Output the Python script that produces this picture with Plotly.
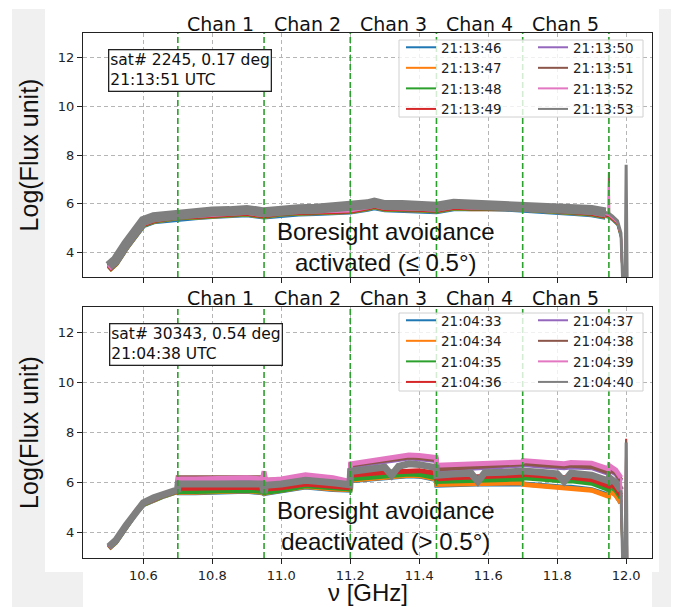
import plotly.graph_objects as go

# the page adds an 8px body margin: the figure sits at (8, 8) in the window
OFF = 8
W, H = 679 - OFF, 607 - OFF

# ---------------- data ----------------
series_colors = ["#1f77b4", "#ff7f0e", "#2ca02c", "#d62728",
                 "#9467bd", "#8c564b", "#e377c2", "#7f7f7f"]
top_names = ["21:13:46", "21:13:47", "21:13:48", "21:13:49",
             "21:13:50", "21:13:51", "21:13:52", "21:13:53"]
bot_names = ["21:04:33", "21:04:34", "21:04:35", "21:04:36",
             "21:04:37", "21:04:38", "21:04:39", "21:04:40"]

chan_edges = [10.7, 10.95, 11.2, 11.45, 11.7, 11.95]
chan_labels = ["Chan 1", "Chan 2", "Chan 3", "Chan 4", "Chan 5"]
chan_centers = [10.825, 11.075, 11.325, 11.575, 11.825]

x_ticks = [10.6, 10.8, 11.0, 11.2, 11.4, 11.6, 11.8, 12.0]
x_tick_labels = ["10.6", "10.8", "11.0", "11.2", "11.4", "11.6", "11.8", "12.0"]
y_ticks = [4, 6, 8, 10, 12]
y_tick_labels = ["4", "6", "8", "10", "12"]

# top panel frequency grid (GHz)
freq_top = [10.5, 10.52, 10.55, 10.58, 10.6, 10.63, 10.66, 10.7, 10.75, 10.8,
            10.85, 10.9, 10.95, 11.0, 11.05, 11.1, 11.15, 11.2, 11.25, 11.27,
            11.3, 11.35, 11.4, 11.45, 11.5, 11.55, 11.6, 11.65, 11.7, 11.75,
            11.8, 11.85, 11.9, 11.94, 11.949, 11.95, 11.951, 11.96, 11.975, 11.985,
            11.99, 11.997, 12.0, 12.003]

top_1346 = [3.3, 3.55, 4.2, 4.8, 5.12, 5.28, 5.33, 5.42, 5.45, 5.5, 5.52, 5.57, 5.48, 5.57, 5.6, 5.62, 5.67, 5.68, 5.8, 5.86, 5.78, 5.77, 5.74, 5.7, 5.82, 5.79, 5.82, 5.8, 5.77, 5.74, 5.67, 5.62, 5.57, 5.47, 5.44, 5.42, 5.42, 5.32, 5.12, 4.6, 2.8, 2.8, 2.8, 2.8]
top_1347 = [3.3, 3.55, 4.2, 4.8, 5.15, 5.3, 5.35, 5.45, 5.47, 5.53, 5.55, 5.6, 5.5, 5.6, 5.63, 5.65, 5.7, 5.7, 5.83, 5.9, 5.8, 5.8, 5.77, 5.73, 5.85, 5.82, 5.85, 5.83, 5.8, 5.77, 5.7, 5.65, 5.6, 5.5, 5.47, 5.45, 5.45, 5.35, 5.15, 4.65, 2.8, 2.8, 2.8, 2.8]
top_1348 = [3.32, 3.56, 4.21, 4.81, 5.16, 5.31, 5.36, 5.46, 5.48, 5.54, 5.56, 5.61, 5.51, 5.61, 5.64, 5.66, 5.71, 5.71, 5.84, 5.91, 5.81, 5.81, 5.78, 5.74, 5.86, 5.83, 5.86, 5.84, 5.81, 5.78, 5.71, 5.66, 5.61, 5.51, 5.48, 5.46, 5.46, 5.36, 5.16, 4.66, 2.8, 2.8, 2.8, 2.8]
top_1349 = [3.33, 3.58, 4.23, 4.83, 5.18, 5.33, 5.38, 5.48, 5.5, 5.56, 5.58, 5.63, 5.53, 5.63, 5.66, 5.68, 5.73, 5.73, 5.86, 5.93, 5.83, 5.83, 5.8, 5.76, 5.88, 5.85, 5.88, 5.86, 5.83, 5.8, 5.73, 5.68, 5.63, 5.53, 5.5, 5.48, 5.48, 5.38, 5.18, 4.68, 2.8, 2.8, 2.8, 2.8]
top_1350 = [3.4, 3.65, 4.3, 4.9, 5.25, 5.4, 5.45, 5.55, 5.57, 5.63, 5.65, 5.7, 5.6, 5.7, 5.73, 5.75, 5.8, 5.8, 5.93, 6.0, 5.9, 5.9, 5.87, 5.83, 5.95, 5.92, 5.95, 5.93, 5.9, 5.87, 5.8, 5.75, 5.7, 5.6, 5.57, 5.55, 5.55, 5.45, 5.25, 4.75, 2.8, 2.8, 2.8, 2.8]
top_1351 = [3.42, 3.67, 4.32, 4.92, 5.27, 5.42, 5.47, 5.57, 5.59, 5.65, 5.67, 5.72, 5.62, 5.72, 5.75, 5.77, 5.82, 5.82, 5.95, 6.02, 5.92, 5.92, 5.89, 5.85, 5.97, 5.94, 5.97, 5.95, 5.92, 5.89, 5.82, 5.77, 5.72, 5.62, 5.59, 7.3, 5.57, 5.47, 5.27, 4.77, 2.8, 2.8, 2.8, 2.8]
top_1352 = [3.37, 3.62, 4.27, 4.87, 5.22, 5.37, 5.42, 5.52, 5.54, 5.6, 5.62, 5.67, 5.57, 5.67, 5.7, 5.72, 5.77, 5.77, 5.9, 5.97, 5.87, 5.87, 5.84, 5.8, 5.92, 5.89, 5.92, 5.9, 5.87, 5.84, 5.77, 5.72, 5.67, 5.57, 5.54, 6.85, 5.52, 5.42, 5.22, 4.72, 2.8, 2.8, 2.8, 2.8]
top_1353 = [3.45, 3.7, 4.35, 4.95, 5.3, 5.45, 5.5, 5.6, 5.62, 5.68, 5.7, 5.75, 5.65, 5.75, 5.78, 5.8, 5.85, 5.85, 5.98, 6.05, 5.95, 5.95, 5.92, 5.88, 6.0, 5.97, 6.0, 5.98, 5.95, 5.92, 5.85, 5.8, 5.75, 5.65, 5.62, 5.6, 5.6, 5.5, 5.3, 4.8, 2.8, 2.8, 7.6, 2.8]

# bottom panel frequency grid (GHz)
freq_bot = [10.5, 10.52, 10.55, 10.58, 10.6, 10.63, 10.66, 10.699, 10.701, 10.75,
            10.8, 10.85, 10.9, 10.945, 10.95, 10.955, 11.0, 11.07, 11.15, 11.199,
            11.201, 11.25, 11.3, 11.32, 11.34, 11.37, 11.4, 11.449, 11.451, 11.5,
            11.55, 11.57, 11.59, 11.65, 11.699, 11.701, 11.75, 11.8, 11.82, 11.84,
            11.9, 11.949, 11.951, 11.97, 11.985, 11.99, 11.997, 12.0, 12.003]

bot_0433 = [3.38, 3.62, 4.22, 4.82, 5.12, 5.32, 5.47, 5.64, 5.6, 5.6, 5.63, 5.63, 5.66, 5.6, 5.56, 5.58, 5.66, 5.83, 5.73, 5.7,
            6.08, 6.15, 6.2, 6.21, 6.23, 6.28, 6.26, 6.13, 5.9, 5.93, 5.95, 5.95, 5.96, 5.95, 5.97, 5.95, 5.9, 5.82, 5.82, 5.82,
            5.72, 5.5, 5.72, 5.52, 5.2, 2.8, 2.8, 2.8, 2.8]
bot_0434 = [3.38, 3.63, 4.23, 4.83, 5.13, 5.33, 5.48, 5.65, 5.62, 5.62, 5.65, 5.65, 5.68, 5.62, 5.58, 5.6, 5.68, 5.85, 5.75, 5.72,
            6.1, 6.17, 6.22, 6.23, 6.25, 6.3, 6.28, 6.15, 5.93, 5.95, 5.97, 5.97, 5.98, 5.97, 6.0, 5.93, 5.88, 5.8, 5.8, 5.8,
            5.7, 5.46, 5.7, 5.5, 5.2, 2.8, 2.8, 2.8, 2.8]
bot_0435 = [3.4, 3.64, 4.24, 4.84, 5.14, 5.34, 5.49, 5.66, 5.65, 5.65, 5.68, 5.68, 5.7, 5.65, 5.6, 5.62, 5.7, 5.88, 5.78, 5.75,
            6.15, 6.22, 6.27, 6.28, 6.3, 6.35, 6.33, 6.2, 6.05, 6.08, 6.1, 6.1, 6.12, 6.13, 6.15, 6.2, 6.15, 6.07, 6.07, 6.08,
            5.98, 5.73, 5.9, 5.7, 5.4, 2.8, 2.8, 2.8, 2.8]
bot_0436 = [3.41, 3.66, 4.26, 4.86, 5.16, 5.36, 5.51, 5.68, 5.78, 5.78, 5.8, 5.8, 5.82, 5.78, 5.7, 5.75, 5.8, 5.95, 5.85, 5.8,
            6.3, 6.38, 6.42, 6.43, 6.45, 6.5, 6.48, 6.38, 6.15, 6.2, 6.22, 6.23, 6.25, 6.27, 6.3, 6.34, 6.28, 6.2, 6.2, 6.22,
            6.12, 5.86, 6.0, 5.8, 5.5, 2.8, 2.8, 7.75, 2.8]
bot_0437 = [3.42, 3.67, 4.27, 4.87, 5.17, 5.37, 5.52, 5.69, 6.07, 6.07, 6.07, 6.1, 6.12, 6.07, 6.3, 6.02, 6.07, 6.24, 6.12, 5.97,
            6.65, 6.75, 6.85, 6.87, 6.9, 6.98, 6.95, 6.88, 6.5, 6.55, 6.6, 6.6, 6.62, 6.66, 6.7, 6.72, 6.66, 6.6, 6.6, 6.63,
            6.6, 6.37, 6.5, 6.35, 6.05, 2.8, 2.8, 2.8, 2.8]
bot_0438 = [3.43, 3.68, 4.28, 4.88, 5.18, 5.38, 5.53, 5.7, 6.2, 6.2, 6.2, 6.22, 6.24, 6.2, 6.2, 6.1, 6.12, 6.28, 6.15, 6.0,
            6.7, 6.8, 6.9, 6.92, 6.95, 7.02, 7.0, 6.92, 6.55, 6.6, 6.65, 6.66, 6.68, 6.72, 6.75, 6.78, 6.72, 6.65, 6.66, 6.7,
            6.65, 6.42, 6.55, 6.4, 6.1, 2.8, 2.8, 7.7, 2.8]
bot_0439 = [3.44, 3.69, 4.29, 4.89, 5.19, 5.39, 5.54, 5.71, 6.15, 6.15, 6.15, 6.18, 6.2, 6.15, 6.45, 6.1, 6.15, 6.32, 6.2, 6.05,
            6.75, 6.85, 6.95, 6.98, 7.0, 7.1, 7.08, 7.0, 6.7, 6.72, 6.75, 6.75, 6.77, 6.8, 6.82, 6.88, 6.82, 6.75, 6.76, 6.8,
            6.78, 6.55, 6.68, 6.5, 6.2, 2.8, 2.8, 2.8, 2.8]
bot_0440 = [3.45, 3.7, 4.3, 4.9, 5.2, 5.4, 5.55, 5.72, 5.95, 5.95, 5.95, 5.97, 6.0, 5.95, 5.6, 5.9, 5.95, 6.1, 6.0, 5.92,
            6.45, 6.55, 6.62, 6.3, 6.65, 6.75, 6.72, 6.6, 6.3, 6.35, 6.38, 6.05, 6.4, 6.42, 6.45, 6.47, 6.42, 6.35, 6.05, 6.38,
            6.3, 6.07, 6.2, 6.0, 5.7, 2.8, 2.8, 7.6, 2.8]

top_series = [top_1346, top_1347, top_1348, top_1349, top_1350, top_1351, top_1352, top_1353]
bot_series = [bot_0433, bot_0434, bot_0435, bot_0436, bot_0437, bot_0438, bot_0439, bot_0440]

# ---------------- helpers (window pixels -> paper) ----------------
def px(xp):
    return (xp - OFF) / W

def py(yp):
    return 1 - (yp - OFF) / H

X_DOM = [px(83), px(652)]
TOP_DOM = [py(277), py(33)]
BOT_DOM = [py(558), py(307)]

fig = go.Figure()

# thick "band" part and thin tail (steep drop / spikes at the band edge)
TOP_CUT = freq_top.index(11.94)
BOT_CUT = freq_bot.index(11.985)

for i in range(8):
    w_top = 10 if i == 7 else 6
    fig.add_trace(go.Scatter(x=freq_top[:TOP_CUT + 1], y=top_series[i][:TOP_CUT + 1], mode="lines",
                             line=dict(color=series_colors[i], width=w_top),
                             xaxis="x", yaxis="y", showlegend=False, hoverinfo="skip"))
for i in range(8):
    fig.add_trace(go.Scatter(x=freq_top[TOP_CUT:], y=top_series[i][TOP_CUT:], mode="lines",
                             line=dict(color=series_colors[i], width=3 if i == 7 else 2),
                             xaxis="x", yaxis="y", showlegend=False, hoverinfo="skip"))
for i in range(8):
    w_bot = 7 if i == 7 else 5
    fig.add_trace(go.Scatter(x=freq_bot[:BOT_CUT + 1], y=bot_series[i][:BOT_CUT + 1], mode="lines",
                             line=dict(color=series_colors[i], width=w_bot),
                             xaxis="x2", yaxis="y2", showlegend=False, hoverinfo="skip"))
for i in range(8):
    fig.add_trace(go.Scatter(x=freq_bot[BOT_CUT:], y=bot_series[i][BOT_CUT:], mode="lines",
                             line=dict(color=series_colors[i], width=3 if i == 7 else 2),
                             xaxis="x2", yaxis="y2", showlegend=False, hoverinfo="skip"))

# legend-only entries
for i in range(8):
    fig.add_trace(go.Scatter(x=[None], y=[None], mode="lines", name=top_names[i],
                             line=dict(color=series_colors[i], width=2),
                             xaxis="x", yaxis="y",
                             legend="legend" if i < 4 else "legend2"))
for i in range(8):
    fig.add_trace(go.Scatter(x=[None], y=[None], mode="lines", name=bot_names[i],
                             line=dict(color=series_colors[i], width=2),
                             xaxis="x2", yaxis="y2",
                             legend="legend3" if i < 4 else "legend4"))

axis_common = dict(
    range=[10.425, 12.075], tickvals=x_ticks, ticktext=x_tick_labels,
    ticks="outside", ticklen=5,
    tickcolor="#222", showline=True, linecolor="#222", linewidth=1.3, mirror=True,
    showgrid=True, gridcolor="#b5b5b5", gridwidth=0.8, griddash="4px,3px",
    zeroline=False, domain=X_DOM,
    tickfont=dict(family="DejaVu Sans", size=13, color="#222"),
)
yaxis_common = dict(
    range=[3, 13], tickvals=y_ticks, ticktext=y_tick_labels,
    ticks="outside", ticklen=5,
    tickcolor="#222", showline=True, linecolor="#222", linewidth=1.3, mirror=True,
    showgrid=True, gridcolor="#b5b5b5", gridwidth=0.8, griddash="4px,3px",
    zeroline=False,
    tickfont=dict(family="DejaVu Sans", size=13, color="#222"),
    title=dict(text="Log(Flux unit)", font=dict(family="Liberation Sans", size=25, color="#111"), standoff=11),
)

legend_common = dict(
    bgcolor="rgba(0,0,0,0)", borderwidth=0, xanchor="left", yanchor="top",
    font=dict(family="DejaVu Sans", size=13.5, color="#222"),
    tracegroupgap=0, itemwidth=30,
)

shapes = []
# page-like gray strips around the figure
gray = "#f0f0f0"
for (x0, y0, x1, y1) in [(12, 9, 45, 607), (45, 572, 83, 607),
                         (659, 9, 679, 607), (652, 572, 659, 607)]:
    shapes.append(dict(type="rect", xref="paper", yref="paper",
                       x0=px(x0), x1=px(x1), y0=py(y1), y1=py(y0),
                       fillcolor=gray, line=dict(width=0), layer="below"))

# channel boundaries
for xr, yr in [("x", "y domain"), ("x2", "y2 domain")]:
    for e in chan_edges:
        shapes.append(dict(type="line", xref=xr, yref=yr, x0=e, x1=e, y0=0, y1=1,
                           line=dict(color="#2ca02c", width=1.6, dash="6px,3px")))

# legend frames
for (x0, y0, x1, y1) in [(399, 40, 643, 117), (399, 313, 643, 391)]:
    shapes.append(dict(type="rect", xref="paper", yref="paper",
                       x0=px(x0), x1=px(x1), y0=py(y1), y1=py(y0),
                       fillcolor="rgba(255,255,255,0.8)",
                       line=dict(color="#d0d0d0", width=1)))

annotations = []
for c, lab in zip(chan_centers, chan_labels):
    annotations.append(dict(x=c, xref="x", y=py(24), yref="paper", text=lab, showarrow=False,
                            xanchor="center", yanchor="middle",
                            font=dict(family="DejaVu Sans", size=19, color="#111")))
    annotations.append(dict(x=c, xref="x2", y=py(298), yref="paper", text=lab, showarrow=False,
                            xanchor="center", yanchor="middle",
                            font=dict(family="DejaVu Sans", size=19, color="#111")))

annotations.append(dict(x=px(108), y=py(49), xref="paper", yref="paper",
                        text="sat# 2245, 0.17 deg<br>21:13:51 UTC", showarrow=False,
                        xanchor="left", yanchor="top", align="left",
                        bordercolor="#222", borderwidth=1.3, borderpad=1, bgcolor="white",
                        font=dict(family="DejaVu Sans", size=15.5, color="#111")))
annotations.append(dict(x=px(109), y=py(323), xref="paper", yref="paper",
                        text="sat# 30343, 0.54 deg<br>21:04:38 UTC", showarrow=False,
                        xanchor="left", yanchor="top", align="left",
                        bordercolor="#222", borderwidth=1.3, borderpad=1, bgcolor="white",
                        font=dict(family="DejaVu Sans", size=15.5, color="#111")))

annotations.append(dict(x=px(386), y=py(247), xref="paper", yref="paper",
                        text="Boresight avoidance<br>activated (≤ 0.5°)", showarrow=False,
                        xanchor="center", yanchor="middle", align="center",
                        font=dict(family="Liberation Sans", size=24, color="#111")))
annotations.append(dict(x=px(386), y=py(526), xref="paper", yref="paper",
                        text="Boresight avoidance<br>deactivated (> 0.5°)", showarrow=False,
                        xanchor="center", yanchor="middle", align="center",
                        font=dict(family="Liberation Sans", size=24, color="#111")))
# x-axis title
annotations.append(dict(x=(X_DOM[0] + X_DOM[1]) / 2, y=0, xref="paper", yref="paper",
                        text="ν [GHz]", showarrow=False, xanchor="center", yanchor="bottom",
                        borderpad=0,
                        font=dict(family="Liberation Sans", size=24, color="#111")))

fig.update_layout(
    width=W, height=H, margin=dict(l=0, r=0, t=0, b=0),
    paper_bgcolor="white", plot_bgcolor="white",
    xaxis=dict(axis_common, anchor="y", showticklabels=False),
    yaxis=dict(yaxis_common, domain=TOP_DOM, anchor="x"),
    xaxis2=dict(axis_common, anchor="y2"),
    yaxis2=dict(yaxis_common, domain=BOT_DOM, anchor="x2"),
    legend=dict(legend_common, x=px(401), y=py(32)),
    legend2=dict(legend_common, x=px(533), y=py(32)),
    legend3=dict(legend_common, x=px(401), y=py(305)),
    legend4=dict(legend_common, x=px(533), y=py(305)),
    shapes=shapes, annotations=annotations,
)

fig.write_html("out.html")
